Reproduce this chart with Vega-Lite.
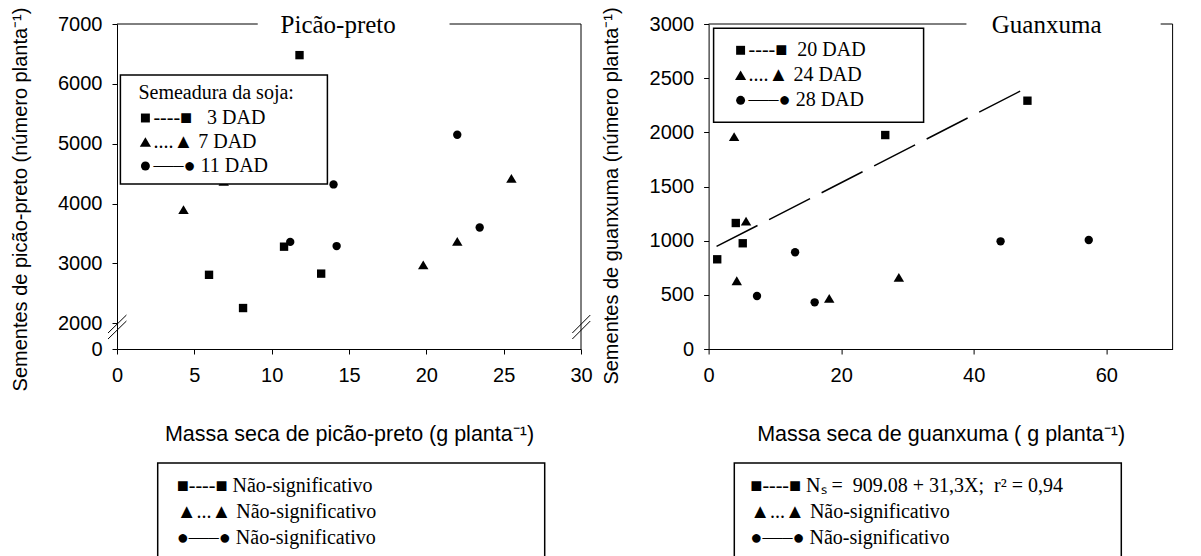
{
  "$schema": "https://vega.github.io/schema/vega-lite/v6.json",
  "background": "white",
  "padding": {"left": 9, "top": 6, "right": 0, "bottom": 0},
  "autosize": {"type": "pad"},
  "datasets": {
    "picao": [
      {"x": 11.8, "y": 6480, "serie": "3 DAD"},
      {"x": 5.95, "y": 2810, "serie": "3 DAD"},
      {"x": 8.15, "y": 2255, "serie": "3 DAD"},
      {"x": 10.8, "y": 3280, "serie": "3 DAD"},
      {"x": 13.2, "y": 2830, "serie": "3 DAD"},
      {"x": 4.3, "y": 3900, "serie": "7 DAD"},
      {"x": 6.9, "y": 4370, "serie": "7 DAD"},
      {"x": 19.8, "y": 2975, "serie": "7 DAD"},
      {"x": 22.0, "y": 3370, "serie": "7 DAD"},
      {"x": 25.5, "y": 4420, "serie": "7 DAD"},
      {"x": 11.2, "y": 3360, "serie": "11 DAD"},
      {"x": 14.0, "y": 4320, "serie": "11 DAD"},
      {"x": 14.2, "y": 3290, "serie": "11 DAD"},
      {"x": 22.0, "y": 5150, "serie": "11 DAD"},
      {"x": 23.45, "y": 3600, "serie": "11 DAD"}
    ],
    "guanxuma": [
      {"x": 1.3, "y": 828, "serie": "20 DAD"},
      {"x": 4.1, "y": 1163, "serie": "20 DAD"},
      {"x": 5.15, "y": 976, "serie": "20 DAD"},
      {"x": 26.65, "y": 1975, "serie": "20 DAD"},
      {"x": 48.1, "y": 2292, "serie": "20 DAD"},
      {"x": 3.85, "y": 1960, "serie": "24 DAD"},
      {"x": 5.65, "y": 1180, "serie": "24 DAD"},
      {"x": 4.25, "y": 630, "serie": "24 DAD"},
      {"x": 18.2, "y": 468, "serie": "24 DAD"},
      {"x": 28.7, "y": 662, "serie": "24 DAD"},
      {"x": 7.3, "y": 489, "serie": "28 DAD"},
      {"x": 13.05, "y": 893, "serie": "28 DAD"},
      {"x": 16.0, "y": 431, "serie": "28 DAD"},
      {"x": 44.05, "y": 994, "serie": "28 DAD"},
      {"x": 57.35, "y": 1006, "serie": "28 DAD"}
    ],
    "reg": [
      {"x": 1.2, "y": 946.6},
      {"x": 48.2, "y": 2417.7}
    ],
    "eqL": [
      {"eq": "■----■ Não-significativo"},
      {"eq": "▲...▲ Não-significativo"},
      {"eq": "●—–● Não-significativo"}
    ],
    "eqR": [
      {"eq": "■----■ Nₛ =\u00a0 909.08 + 31,3X;\u00a0 r² = 0,94"},
      {"eq": "▲...▲ Não-significativo"},
      {"eq": "●—–● Não-significativo"}
    ]
  },
  "spacing": 127.6,
  "bounds": "flush",
  "resolve": {
    "scale": {"color": "independent", "shape": "independent"},
    "legend": {"color": "independent", "shape": "independent"}
  },
  "hconcat": [
    {
      "width": 464,
      "height": 325,
      "layer": [
        {
          "data": {"name": "picao"},
          "mark": {"type": "point", "filled": true, "color": "black", "size": 70, "opacity": 1},
          "encoding": {
            "x": {
              "field": "x", "type": "quantitative",
              "scale": {"domain": [0, 30], "nice": false, "zero": false},
              "axis": {"values": [0, 5, 10, 15, 20, 25, 30], "format": "d", "title": "Massa seca de picão-preto (g planta⁻¹)", "titleY": 85, "titleBaseline": "middle", "titleFontSize": 21.5}
            },
            "y": {
              "field": "y", "type": "quantitative",
              "scale": {"domain": [0, 2000, 7000], "range": [325, 299.3, 0], "nice": false, "zero": false},
              "axis": {"values": [0, 2000, 3000, 4000, 5000, 6000, 7000], "format": "d", "title": "Sementes de picão-preto (número planta⁻¹)", "titleX": -97, "titleY": 175, "titleBaseline": "middle"}
            },
            "shape": {
              "field": "serie", "type": "nominal",
              "scale": {"domain": ["3 DAD", "7 DAD", "11 DAD"], "range": ["square", "M0,-1.05L1.25,1.05L-1.25,1.05Z", "circle"]},
              "legend": {
                "orient": "none", "legendX": 3.4, "legendY": 51,
                "title": "\u200b\u00a0\u00a0Semeadura da soja:\u00a0\u00a0\u00a0\u00a0\u00a0\u200b",
                "titlePadding": 5,
                "padding": 8,
                "symbolOffset": 7,
                "labelOffset": -2,
                "rowPadding": 4,
                "labelExpr": "datum.label == '3 DAD' ? '----■\u00a0\u00a0\u00a03 DAD' : datum.label == '7 DAD' ? '....▲\u00a07 DAD' : '—–● 11 DAD'"
              }
            }
          }
        },
        {
          "data": {"name": "eqL"},
          "mark": {"type": "point", "opacity": 0},
          "encoding": {
            "x": {"datum": 0, "scale": {"domain": [0, 30], "nice": false, "zero": false}},
            "y": {"datum": 3000, "scale": {"domain": [0, 2000, 7000], "range": [325, 299.3, 0], "nice": false, "zero": false}},
            "color": {
              "field": "eq", "type": "nominal", "sort": null,
              "scale": {"range": ["black"]},
              "legend": {
                "orient": "none", "legendX": 40.7, "legendY": 439,
                "title": null,
                "padding": 13,
                "rowPadding": 6,
                "symbolSize": 0,
                "symbolOpacity": 0,
                "symbolStrokeWidth": 0,
                "labelOffset": -14,
                "labelExpr": "datum.label + '\u00a0\u00a0\u00a0\u00a0\u00a0\u00a0\u00a0\u00a0\u00a0\u00a0\u00a0\u00a0\u00a0\u00a0\u00a0\u00a0\u00a0\u00a0\u00a0\u00a0\u00a0\u00a0\u00a0\u00a0\u00a0\u00a0\u00a0\u00a0\u00a0\u00a0\u00a0\u200b'"
              }
            }
          }
        },
        {
          "data": {"values": [{}]},
          "mark": {"type": "rule", "color": "black", "strokeWidth": 1},
          "encoding": {
            "x": {"datum": 30, "scale": {"domain": [0, 30], "nice": false, "zero": false}}
          }
        },
        {
          "data": {"values": [{}]},
          "mark": {"type": "rule", "color": "black", "strokeWidth": 1},
          "encoding": {
            "x": {"datum": 0, "scale": {"domain": [0, 30], "nice": false, "zero": false}},
            "x2": {"datum": 9.1},
            "y": {"datum": 7000, "scale": {"domain": [0, 2000, 7000], "range": [325, 299.3, 0], "nice": false, "zero": false}}
          }
        },
        {
          "data": {"values": [{}]},
          "mark": {"type": "rule", "color": "black", "strokeWidth": 1},
          "encoding": {
            "x": {"datum": 21.5, "scale": {"domain": [0, 30], "nice": false, "zero": false}},
            "x2": {"datum": 30},
            "y": {"datum": 7000, "scale": {"domain": [0, 2000, 7000], "range": [325, 299.3, 0], "nice": false, "zero": false}}
          }
        },
        {
          "data": {"values": [{}]},
          "mark": {"type": "rule", "color": "black", "strokeWidth": 1},
          "encoding": {
            "x": {"datum": -0.58, "scale": {"domain": [0, 30], "nice": false, "zero": false}},
            "x2": {"datum": 0.61},
            "y": {"datum": 1245, "scale": {"domain": [0, 2000, 7000], "range": [325, 299.3, 0], "nice": false, "zero": false}},
            "y2": {"datum": 2138}
          }
        },
        {
          "data": {"values": [{}]},
          "mark": {"type": "rule", "color": "black", "strokeWidth": 1},
          "encoding": {
            "x": {"datum": -0.58, "scale": {"domain": [0, 30], "nice": false, "zero": false}},
            "x2": {"datum": 0.61},
            "y": {"datum": 778, "scale": {"domain": [0, 2000, 7000], "range": [325, 299.3, 0], "nice": false, "zero": false}},
            "y2": {"datum": 2038}
          }
        },
        {
          "data": {"values": [{}]},
          "mark": {"type": "rule", "color": "black", "strokeWidth": 1},
          "encoding": {
            "x": {"datum": 29.44, "scale": {"domain": [0, 30], "nice": false, "zero": false}},
            "x2": {"datum": 30.6},
            "y": {"datum": 1245, "scale": {"domain": [0, 2000, 7000], "range": [325, 299.3, 0], "nice": false, "zero": false}},
            "y2": {"datum": 2138}
          }
        },
        {
          "data": {"values": [{}]},
          "mark": {"type": "rule", "color": "black", "strokeWidth": 1},
          "encoding": {
            "x": {"datum": 29.44, "scale": {"domain": [0, 30], "nice": false, "zero": false}},
            "x2": {"datum": 30.6},
            "y": {"datum": 778, "scale": {"domain": [0, 2000, 7000], "range": [325, 299.3, 0], "nice": false, "zero": false}},
            "y2": {"datum": 2038}
          }
        },
        {
          "data": {"values": [{}]},
          "mark": {"type": "text", "text": "Picão-preto", "font": "Liberation Serif", "fontSize": 25, "baseline": "alphabetic", "dy": 9, "color": "black"},
          "encoding": {
            "x": {"datum": 14.3, "scale": {"domain": [0, 30], "nice": false, "zero": false}},
            "y": {"datum": 7000, "scale": {"domain": [0, 2000, 7000], "range": [325, 299.3, 0], "nice": false, "zero": false}}
          }
        }
      ]
    },
    {
      "width": 464,
      "height": 325,
      "layer": [
        {
          "data": {"name": "guanxuma"},
          "mark": {"type": "point", "filled": true, "color": "black", "size": 70, "opacity": 1},
          "encoding": {
            "x": {
              "field": "x", "type": "quantitative",
              "scale": {"domain": [0, 70], "nice": false, "zero": false},
              "axis": {"values": [0, 20, 40, 60], "format": "d", "title": "Massa seca de guanxuma ( g planta⁻¹)", "titleY": 85, "titleBaseline": "middle", "titleFontSize": 21.5}
            },
            "y": {
              "field": "y", "type": "quantitative",
              "scale": {"domain": [0, 3000], "nice": false, "zero": false},
              "axis": {"values": [0, 500, 1000, 1500, 2000, 2500, 3000], "format": "d", "title": "Sementes de guanxuma (número planta⁻¹)", "titleX": -97, "titleY": 171.5, "titleBaseline": "middle"}
            },
            "shape": {
              "field": "serie", "type": "nominal",
              "scale": {"domain": ["20 DAD", "24 DAD", "28 DAD"], "range": ["square", "M0,-1.05L1.25,1.05L-1.25,1.05Z", "circle"]},
              "legend": {
                "orient": "none", "legendX": 5, "legendY": 4.3,
                "title": null,
                "padding": 12,
                "symbolOffset": 5,
                "labelOffset": -2,
                "rowPadding": 5,
                "labelExpr": "(datum.label == '20 DAD' ? '----■\u00a0\u00a020 DAD' : datum.label == '24 DAD' ? '....▲\u00a024 DAD' : '—–●\u00a028 DAD') + '\u00a0\u00a0\u00a0\u00a0\u00a0\u00a0\u00a0\u00a0\u00a0\u200b'"
              }
            }
          }
        },
        {
          "data": {"name": "reg"},
          "mark": {"type": "line", "color": "black", "strokeWidth": 1.5, "strokeDash": [46, 13]},
          "encoding": {
            "x": {"field": "x", "type": "quantitative", "scale": {"domain": [0, 70], "nice": false, "zero": false}},
            "y": {"field": "y", "type": "quantitative", "scale": {"domain": [0, 3000], "nice": false, "zero": false}}
          }
        },
        {
          "data": {"name": "eqR"},
          "mark": {"type": "point", "opacity": 0},
          "encoding": {
            "x": {"datum": 0, "scale": {"domain": [0, 70], "nice": false, "zero": false}},
            "y": {"datum": 1500, "scale": {"domain": [0, 3000], "nice": false, "zero": false}},
            "color": {
              "field": "eq", "type": "nominal", "sort": null,
              "scale": {"range": ["black"]},
              "legend": {
                "orient": "none", "legendX": 25.7, "legendY": 439,
                "title": null,
                "padding": 13,
                "rowPadding": 6,
                "symbolSize": 0,
                "symbolOpacity": 0,
                "symbolStrokeWidth": 0,
                "labelOffset": -17,
                "labelExpr": "datum.label + '\u00a0\u00a0\u00a0\u00a0\u00a0\u00a0\u00a0\u00a0\u00a0\u200b'"
              }
            }
          }
        },
        {
          "data": {"values": [{}]},
          "mark": {"type": "rule", "color": "black", "strokeWidth": 1},
          "encoding": {
            "x": {"datum": 70, "scale": {"domain": [0, 70], "nice": false, "zero": false}}
          }
        },
        {
          "data": {"values": [{}]},
          "mark": {"type": "rule", "color": "black", "strokeWidth": 1},
          "encoding": {
            "x": {"datum": 0, "scale": {"domain": [0, 70], "nice": false, "zero": false}},
            "x2": {"datum": 38.9},
            "y": {"datum": 3000, "scale": {"domain": [0, 3000], "nice": false, "zero": false}}
          }
        },
        {
          "data": {"values": [{}]},
          "mark": {"type": "rule", "color": "black", "strokeWidth": 1},
          "encoding": {
            "x": {"datum": 68.2, "scale": {"domain": [0, 70], "nice": false, "zero": false}},
            "x2": {"datum": 70},
            "y": {"datum": 3000, "scale": {"domain": [0, 3000], "nice": false, "zero": false}}
          }
        },
        {
          "data": {"values": [{}]},
          "mark": {"type": "text", "text": "Guanxuma", "font": "Liberation Serif", "fontSize": 25, "baseline": "alphabetic", "dy": 9, "color": "black"},
          "encoding": {
            "x": {"datum": 51, "scale": {"domain": [0, 70], "nice": false, "zero": false}},
            "y": {"datum": 3000, "scale": {"domain": [0, 3000], "nice": false, "zero": false}}
          }
        }
      ]
    }
  ],
  "config": {
    "view": {"stroke": null},
    "font": "Liberation Sans",
    "axis": {
      "domainColor": "black",
      "domainWidth": 1,
      "tickColor": "black",
      "tickSize": 5,
      "labelColor": "black",
      "titleColor": "black",
      "labelFont": "Liberation Sans",
      "titleFont": "Liberation Sans",
      "labelFontSize": 20,
      "titleFontSize": 20,
      "titleFontWeight": "normal",
      "grid": false,
      "labelOverlap": false,
      "labelFlush": false,
      "labelBound": false
    },
    "axisX": {"labelPadding": 11},
    "axisY": {"labelPadding": 10},
    "legend": {
      "labelFont": "Liberation Serif",
      "labelFontSize": 20,
      "labelColor": "black",
      "labelLimit": 1000,
      "titleFont": "Liberation Serif",
      "titleFontSize": 20,
      "titleFontWeight": "normal",
      "titleColor": "black",
      "titleLimit": 1000,
      "symbolSize": 80,
      "symbolFillColor": "black",
      "strokeColor": "black",
      "strokeWidth": 1.5,
      "fillColor": "white"
    }
  }
}
